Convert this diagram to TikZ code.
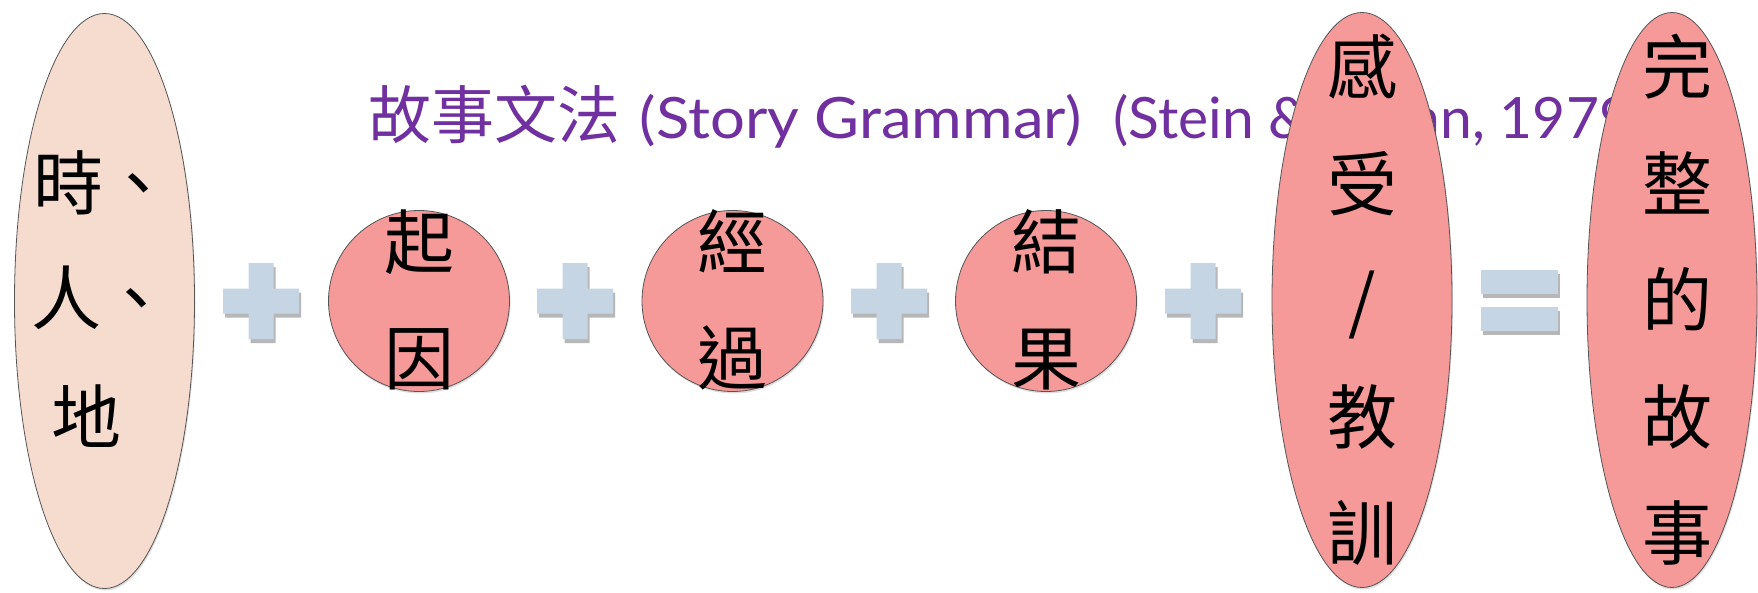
\documentclass[tikz,border=0pt]{standalone}
\usepackage{fontspec}
\newfontfamily\cjk{Noto Sans CJK TC}
\newfontfamily\latin{Lato}
\newfontfamily\latinwide[FakeStretch=1.08]{Lato}
\usetikzlibrary{shapes.geometric,shadows}
\definecolor{peach}{HTML}{F6DCCF}
\definecolor{pinkfill}{HTML}{F59999}
\definecolor{plusblue}{HTML}{C5D5E4}
\definecolor{titlepurple}{HTML}{7030A0}
\definecolor{edgegray}{HTML}{555555}
\tikzset{
  shapeborder/.style={draw=edgegray, line width=0.8pt,
    drop shadow={opacity=0.25, shadow xshift=1pt, shadow yshift=-2pt}},
  tallellipse/.style={ellipse, shapeborder, inner sep=0pt, minimum width=180pt, minimum height=575pt},
  roundbox/.style={circle, shapeborder, fill=pinkfill, inner sep=0pt, minimum size=181pt},
  bigtext/.style={font=\cjk\fontsize{70}{116.5}\selectfont, align=center, inner sep=0pt, text=black},
  titletext/.style={text=titlepurple, inner sep=0pt, anchor=base west},
  opshadow/.style={drop shadow={opacity=0.4, fill=black!70, shadow xshift=2pt, shadow yshift=-4pt}},
  plussign/.pic={
    \fill[plusblue, opshadow] (-12.5,-38) -- (12.5,-38) -- (12.5,-12.5) -- (38,-12.5) -- (38,12.5)
      -- (12.5,12.5) -- (12.5,38) -- (-12.5,38) -- (-12.5,12.5) -- (-38,12.5) -- (-38,-12.5)
      -- (-12.5,-12.5) -- cycle;
  },
  equalsign/.pic={
    \fill[plusblue, opshadow] (-38.5,-30.5) rectangle (38.5,-6.5);
    \fill[plusblue, opshadow] (-38.5,6.5) rectangle (38.5,30.5);
  }
}
\begin{document}
\begin{tikzpicture}[x=1pt,y=-1pt]
\useasboundingbox (0,0) rectangle (1758,592);
\fill[white] (0,0) rectangle (1758,592);

% title (partly covered by the ellipses on the right)
\node[titletext] (title) at (368,138) {{\cjk\fontsize{63}{70}\selectfont 故事文法}\hspace{19.5pt}{\latinwide\fontsize{57}{70}\selectfont (Story Grammar)}\hspace{32pt}{\latin\fontsize{57}{70}\selectfont (Stein \& Glenn, 1979)}};

% setting
\node[tallellipse, fill=peach] (setting) at (104.5,301) {};
\node[bigtext] (setA) at (103,183) {時、};
\node[bigtext] (setB) at (101,298) {人、};
\node[bigtext] (setC) at (86,416) {地};

\pic (plusA) at (261,301) {plussign};

\node[roundbox] (cause) at (419,301) {};
\node[bigtext] (causetxt) at (419,300) {起\\因};

\pic (plusB) at (575,301) {plussign};

\node[roundbox] (process) at (732.5,301) {};
\node[bigtext] (processtxt) at (732.5,300) {經\\過};

\pic (plusC) at (889,301) {plussign};

\node[roundbox] (result) at (1046,301) {};
\node[bigtext] (resulttxt) at (1046,300) {結\\果};

\pic (plusD) at (1203,301) {plussign};

\node[tallellipse, fill=pinkfill] (feeling) at (1362,300) {};
\node[bigtext] (feelingtxt) at (1362,300) {感\\受\\/\\教\\訓};

\pic (equal) at (1519.5,300.5) {equalsign};

\node[tallellipse, fill=pinkfill, minimum width=170pt] (story) at (1672,300) {};
\node[bigtext] (storytxt) at (1677,300) {完\\整\\的\\故\\事};
\end{tikzpicture}
\end{document}
